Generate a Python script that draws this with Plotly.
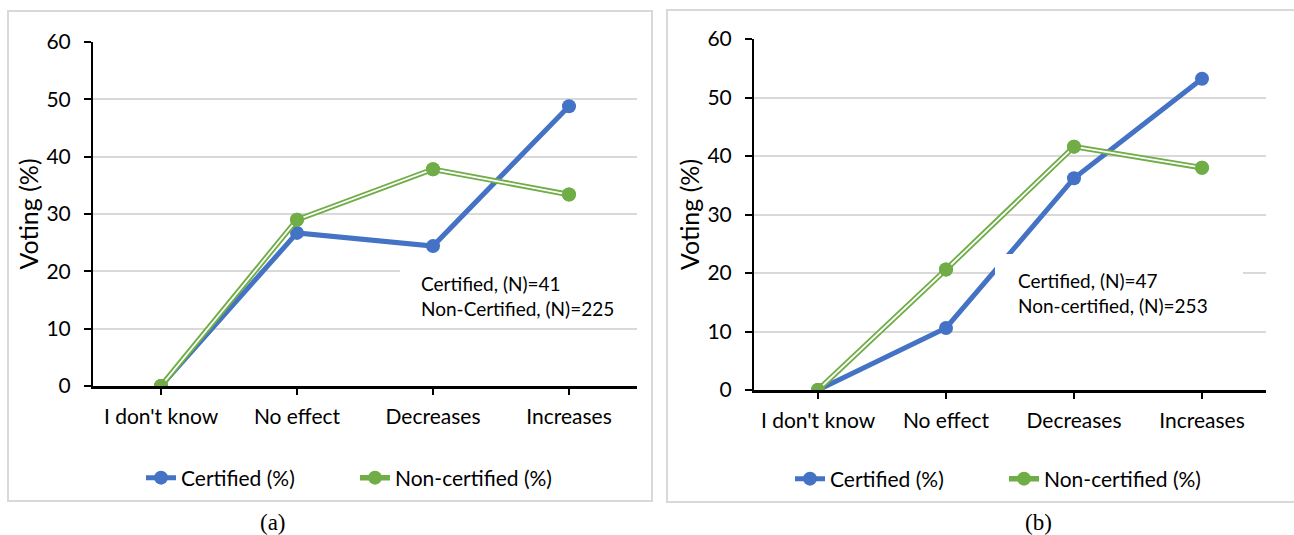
import plotly.graph_objects as go

# Survey answers on the horizontal axis
categories = ["I don't know", "No effect", "Decreases", "Increases"]

# Panel (a): share of votes per answer (%)
certified_a = [0.0, 26.7, 24.4, 48.8]
noncertified_a = [0.0, 29.0, 37.8, 33.4]

# Panel (b): share of votes per answer (%)
certified_b = [0.0, 10.6, 36.2, 53.2]
noncertified_b = [0.0, 20.6, 41.6, 38.0]

notes_a = ["Certified, (N)=41", "Non-Certified, (N)=225"]
notes_b = ["Certified, (N)=47", "Non-certified, (N)=253"]
series_names = ["Certified (%)", "Non-certified (%)"]
captions = ["(a)", "(b)"]

W, H = 1294, 535
BLUE = "#4472C4"
GREEN = "#70AD47"
GRID = "#d9d9d9"
FONT = "Lato"


def px_x(v):
    return v / W


def px_y(v):
    return (H - v) / H


fig = go.Figure()

panels = [
    dict(xa="x", ya="y", cert=certified_a, non=noncertified_a, legend="legend"),
    dict(xa="x2", ya="y2", cert=certified_b, non=noncertified_b, legend="legend2"),
]

for p in panels:
    fig.add_trace(go.Scatter(
        x=categories, y=p["cert"], name=series_names[0], mode="lines+markers",
        line=dict(color=BLUE, width=5), marker=dict(color=BLUE, size=14),
        xaxis=p["xa"], yaxis=p["ya"], legend=p["legend"], hoverinfo="skip",
    ))
    # double (outlined) green line: thick green stroke with a thin white core
    fig.add_trace(go.Scatter(
        x=categories, y=p["non"], name=series_names[1], mode="lines+markers",
        line=dict(color=GREEN, width=5.5), marker=dict(color=GREEN, size=14),
        xaxis=p["xa"], yaxis=p["ya"], legend=p["legend"], hoverinfo="skip",
    ))
    fig.add_trace(go.Scatter(
        x=categories, y=p["non"], mode="lines", showlegend=False,
        line=dict(color="white", width=1.8),
        xaxis=p["xa"], yaxis=p["ya"], hoverinfo="skip",
    ))
    fig.add_trace(go.Scatter(
        x=categories, y=p["non"], mode="markers", showlegend=False,
        marker=dict(color=GREEN, size=14),
        xaxis=p["xa"], yaxis=p["ya"], hoverinfo="skip",
    ))

tick_font = dict(family=FONT, size=21, color="#000000")

xcommon = dict(
    type="category", range=[-0.5, 3.5], showline=True, linecolor="#000000",
    linewidth=2.5, ticks="outside", ticklen=6, tickwidth=1.5, tickcolor="#000000",
    showgrid=False, zeroline=False, tickfont=tick_font, fixedrange=True,
    ticklabelstandoff=4,
)
ycommon = dict(
    range=[0, 60], dtick=10, showline=True, linecolor="#000000", linewidth=2,
    ticks="outside", ticklen=7, tickwidth=1.5, tickcolor="#000000",
    showgrid=True, gridcolor=GRID, gridwidth=2, zeroline=False,
    tickfont=tick_font, fixedrange=True, ticklabelstandoff=9,
    title=dict(text="Voting (%)", font=dict(family=FONT, size=25, color="#000000"),
               standoff=1),
)

legend_common = dict(
    orientation="h", xanchor="left", yanchor="middle",
    font=dict(family=FONT, size=21, color="#000000"),
    bgcolor="rgba(0,0,0,0)", entrywidth=169,
)

fig.update_layout(
    width=W, height=H,
    margin=dict(l=0, r=0, t=0, b=0, autoexpand=False),
    paper_bgcolor="white", plot_bgcolor="white",
    xaxis=dict(xcommon, domain=[px_x(93), px_x(637)], anchor="y"),
    yaxis=dict(ycommon, domain=[px_y(386), px_y(42)], anchor="x"),
    xaxis2=dict(xcommon, domain=[px_x(754), px_x(1266)], anchor="y2"),
    yaxis2=dict(ycommon, domain=[px_y(390), px_y(39)], anchor="x2"),
    legend=dict(legend_common, x=px_x(141), y=px_y(478)),
    legend2=dict(legend_common, x=px_x(790), y=px_y(479)),
    showlegend=True,
)

shapes = [
    # chart frames
    dict(type="rect", xref="paper", yref="paper", x0=px_x(8), x1=px_x(652),
         y0=px_y(501), y1=px_y(11), line=dict(color=GRID, width=2), layer="below"),
    dict(type="rect", xref="paper", yref="paper", x0=px_x(667), x1=px_x(1300),
         y0=px_y(502), y1=px_y(10), line=dict(color=GRID, width=2), layer="below"),
    # white boxes behind the sample-size notes
    dict(type="rect", xref="paper", yref="paper", x0=px_x(400), x1=px_x(640),
         y0=px_y(323), y1=px_y(262), fillcolor="white", line=dict(width=0), layer="above"),
    dict(type="rect", xref="paper", yref="paper", x0=px_x(995), x1=px_x(1243),
         y0=px_y(324), y1=px_y(254), fillcolor="white", line=dict(width=0), layer="above"),
]
# closing tick at the right end of each category axis
for xa, ya in (("x", "y"), ("x2", "y2")):
    shapes.append(dict(type="line", xref=xa, yref=ya, x0=3.5, x1=3.5,
                       ysizemode="pixel", yanchor=0, y0=0, y1=-7,
                       line=dict(color="#000000", width=1.5)))
fig.update_layout(shapes=shapes)

note_font = dict(family=FONT, size=19, color="#000000")
annotations = [
    dict(xref="paper", yref="paper", x=px_x(419), y=px_y(296), xanchor="left",
         yanchor="middle", align="left", showarrow=False,
         text="<br>".join(notes_a), font=note_font),
    dict(xref="paper", yref="paper", x=px_x(1016), y=px_y(293), xanchor="left",
         yanchor="middle", align="left", showarrow=False,
         text="<br>".join(notes_b), font=note_font),
    dict(xref="paper", yref="paper", x=px_x(273), y=px_y(522), xanchor="center",
         yanchor="middle", showarrow=False, text=captions[0],
         font=dict(family="Liberation Serif", size=23, color="#000000")),
    dict(xref="paper", yref="paper", x=px_x(1038), y=px_y(522), xanchor="center",
         yanchor="middle", showarrow=False, text=captions[1],
         font=dict(family="Liberation Serif", size=23, color="#000000")),
]
fig.update_layout(annotations=annotations)

fig.write_html("out.html")
